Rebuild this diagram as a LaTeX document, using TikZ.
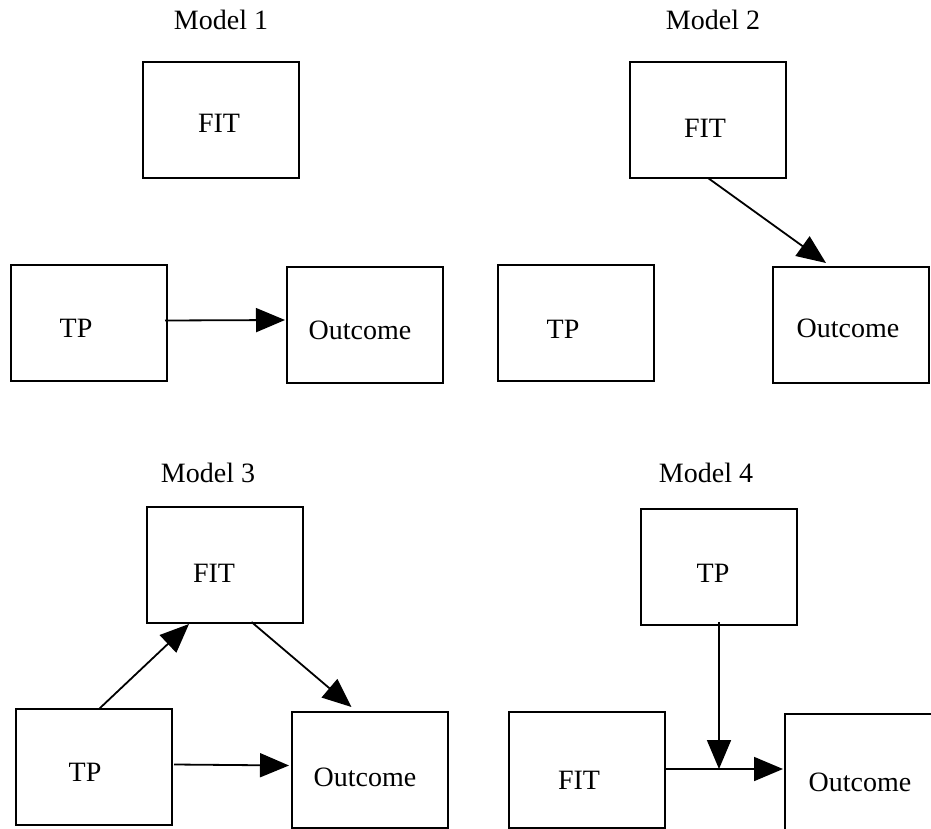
\documentclass[tikz,border=0pt]{standalone}
\usepackage{fontspec}
\setmainfont{Liberation Serif}
\usetikzlibrary{arrows.meta}
\tikzset{
  box/.style={draw, line width=1.8pt, rectangle, minimum width=156pt, minimum height=116pt, inner sep=0pt, outer sep=0pt, anchor=north west},
  txt/.style={inner sep=0pt, font=\fontsize{28pt}{34pt}\selectfont},
  arr/.style={line width=1.8pt, -{Triangle[length=29pt,width=24pt]}},
  ln/.style={line width=1.8pt}
}
\begin{document}
\begin{tikzpicture}[x=1pt,y=-1pt]
\fill[white] (0,0) rectangle (931,829);
\clip (0,0) rectangle (931,829);
% Model 1
\node[txt] (m1) at (221,20) {Model 1};
\node[box] (fit1) at (143,62) {};
\node[txt] (fit1t) at (219,123) {FIT};
\node[box] (tp1) at (11,265) {};
\node[txt] (tp1t) at (76,328) {TP};
\node[box] (out1) at (287,267) {};
\node[txt] (out1t) at (360,330) {Outcome};
\draw[arr] ([xshift=-2pt,yshift=2.5pt]tp1.east) -- ([xshift=-2pt,yshift=5pt]out1.west);
% Model 2
\node[txt] (m2) at (713,20) {Model 2};
\node[box] (fit2) at (630,62) {};
\node[txt] (fit2t) at (705,128) {FIT};
\node[box] (tp2) at (498,265) {};
\node[txt] (tp2t) at (563,329) {TP};
\node[box] (out2) at (773,267) {};
\node[txt] (out2t) at (848,328) {Outcome};
\draw[arr] (fit2.south) -- ([xshift=-25pt,yshift=4pt]out2.north);
% Model 3
\node[txt] (m3) at (208,473) {Model 3};
\node[box] (fit3) at (147,507) {};
\node[txt] (fit3t) at (214,573) {FIT};
\node[box] (tp3) at (16,709) {};
\node[txt] (tp3t) at (85,772) {TP};
\node[box] (out3) at (292,712) {};
\node[txt] (out3t) at (365,777) {Outcome};
\draw[arr] ([xshift=5pt]tp3.north) -- ([xshift=-36pt,yshift=-1pt]fit3.south);
\draw[arr] ([xshift=26.5pt,yshift=1pt]fit3.south) -- ([xshift=-18.5pt,yshift=5pt]out3.north);
\draw[arr] ([xshift=2pt,yshift=2.5pt]tp3.east) -- ([xshift=-3pt,yshift=4.5pt]out3.west);
% Model 4
\node[txt] (m4) at (706,473) {Model 4};
\node[box] (tp4) at (641,509) {};
\node[txt] (tp4t) at (713,573) {TP};
\node[box] (fit4) at (509,712) {};
\node[txt] (fit4t) at (579,780) {FIT};
\node[box] (out4) at (785,714) {};
\node[txt] (out4t) at (860,782) {Outcome};
\coordinate (j4) at (719,769);
\draw[arr] ([xshift=1pt,yshift=1pt]fit4.east) -- ([xshift=-2pt,yshift=3pt]out4.west);
\draw[arr] ([yshift=3pt]tp4.south) -- (j4);
\end{tikzpicture}
\end{document}
